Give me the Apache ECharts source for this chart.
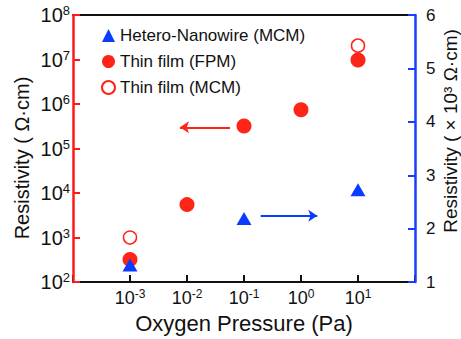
<!DOCTYPE html>
<html><head><meta charset="utf-8">
<script src="https://cdn.jsdelivr.net/npm/echarts@6/dist/echarts.min.js"></script>
<style>html,body{margin:0;padding:0;background:#fff}#c{width:461px;height:339px}</style>
</head><body><div id="c"></div>
<script>
// ---- data ----
const pressureFPM = [1e-3, 1e-2, 1e-1, 1e0, 1e1];
const filmFPM = [320, 5500, 3.2e5, 7.4e5, 9.7e6];          // Ω·cm
const pressureFilmMCM = [1e-3, 1e1];
const filmMCM = [1000, 2.05e7];                             // Ω·cm
const pressureWire = [1e-3, 1e-1, 1e1];
const wireMCM = [1.32, 2.19, 2.73];                         // ×10^3 Ω·cm
const xTickExps = [-3, -2, -1, 0, 1];
const seriesNames = ['Hetero-Nanowire (MCM)', 'Thin film (FPM)', 'Thin film (MCM)'];
// arrow annotations (data coordinates)
const redArrow = [[0.0568, 3.0e5], [0.00753, 3.0e5]];
const blueArrow = [[0.196, 2.24], [1.93, 2.24]];

const RED = '#ff2418', BLUE = '#0a3cff', AXRED = '#ff1a1a', AXBLUE = '#1a3cff';
const FONT = "'Liberation Sans', Arial, sans-serif";
const zip = (xs, ys) => xs.map((x, i) => [x, ys[i]]);
const exp10 = v => Math.round(Math.log10(v));

const chart = echarts.init(document.getElementById('c'), null, {renderer: 'svg'});
chart.setOption({
  animation: false,
  backgroundColor: '#fff',
  grid: {left: 73, right: 46, top: 15, bottom: 47},
  legend: {
    data: seriesNames, orient: 'vertical', left: 96, top: 22,
    itemWidth: 13, itemHeight: 13, itemGap: 9,
    textStyle: {fontFamily: FONT, fontSize: 17, color: '#111', lineHeight: 17}
  },
  xAxis: [{
    type: 'log', logBase: 10, min: 1e-4, max: 100, interval: 1,
    name: 'Oxygen Pressure (Pa)', nameLocation: 'middle', nameGap: 23,
    nameTextStyle: {fontFamily: FONT, fontSize: 22, color: '#111'},
    axisLine: {lineStyle: {color: '#111', width: 2}},
    axisTick: {inside: true, length: 7, lineStyle: {color: '#111', width: 2}},
    splitLine: {show: false},
    axisLabel: {
      margin: 6,
      formatter: v => { const e = exp10(v); return xTickExps.includes(e) ? '{b|10}{s|' + e + '}' : ''; },
      rich: {
        b: {fontFamily: FONT, fontSize: 18, color: '#111', lineHeight: 20},
        s: {fontFamily: FONT, fontSize: 12, color: '#111', lineHeight: 12, verticalAlign: 'top'}
      }
    }
  }, {
    type: 'log', logBase: 10, min: 1e-4, max: 100, position: 'top',
    axisLine: {lineStyle: {color: '#111', width: 2}},
    axisTick: {show: false}, axisLabel: {show: false}, splitLine: {show: false}
  }],
  yAxis: [{
    type: 'log', logBase: 10, min: 100, max: 1e8, interval: 1, position: 'left', z: 5,
    axisLine: {show: true, lineStyle: {color: AXRED, width: 2.5}},
    axisTick: {show: true, inside: true, length: 7, lineStyle: {color: AXRED, width: 2}},
    splitLine: {show: false},
    axisLabel: {
      margin: 3,
      formatter: v => '{b|10}{s|' + exp10(v) + '}',
      rich: {
        b: {fontFamily: FONT, fontSize: 20, color: '#111', lineHeight: 22},
        s: {fontFamily: FONT, fontSize: 13, color: '#111', lineHeight: 13, verticalAlign: 'top'}
      }
    }
  }, {
    type: 'value', min: 1, max: 6, interval: 1, position: 'right', z: 5,
    axisLine: {show: true, lineStyle: {color: AXBLUE, width: 2.5}},
    axisTick: {show: true, inside: true, length: 7, lineStyle: {color: AXBLUE, width: 2}},
    splitLine: {show: false},
    axisLabel: {margin: 11, fontFamily: FONT, fontSize: 17, color: '#111'}
  }],
  graphic: [
    {type: 'text', x: 22, y: 158, rotation: Math.PI / 2,
     style: {text: 'Resistivity ( Ω·cm)', font: '20px ' + FONT, fill: '#111', align: 'center', verticalAlign: 'middle'}},
    {type: 'text', x: 450, y: 131, rotation: Math.PI / 2,
     style: {text: 'Resistivity ( × 10³ Ω·cm)', font: '19px ' + FONT, fill: '#111', align: 'center', verticalAlign: 'middle'}}
  ],
  series: [{
    name: seriesNames[1], type: 'scatter', xAxisIndex: 0, yAxisIndex: 0,
    symbol: 'circle', symbolSize: 15, itemStyle: {color: RED, opacity: 1},
    data: zip(pressureFPM, filmFPM),
    markLine: {
      silent: true, animation: false, symbolSize: 9, label: {show: false},
      lineStyle: {color: RED, width: 2, type: 'solid'},
      data: [[{coord: redArrow[0], symbol: 'none'}, {coord: redArrow[1], symbol: 'arrow'}]]
    }
  }, {
    name: seriesNames[2], type: 'scatter', xAxisIndex: 0, yAxisIndex: 0,
    symbol: 'circle', symbolSize: 13,
    itemStyle: {color: '#fff', borderColor: RED, borderWidth: 1.5, opacity: 1},
    data: zip(pressureFilmMCM, filmMCM)
  }, {
    name: seriesNames[0], type: 'scatter', xAxisIndex: 0, yAxisIndex: 1, z: 4,
    symbol: 'triangle', symbolSize: [15, 13], itemStyle: {color: BLUE, opacity: 1},
    data: zip(pressureWire, wireMCM),
    markLine: {
      silent: true, animation: false, symbolSize: 9, label: {show: false},
      lineStyle: {color: BLUE, width: 2, type: 'solid'},
      data: [[{coord: blueArrow[0], symbol: 'none'}, {coord: blueArrow[1], symbol: 'arrow'}]]
    }
  }]
});
</script></body></html>
